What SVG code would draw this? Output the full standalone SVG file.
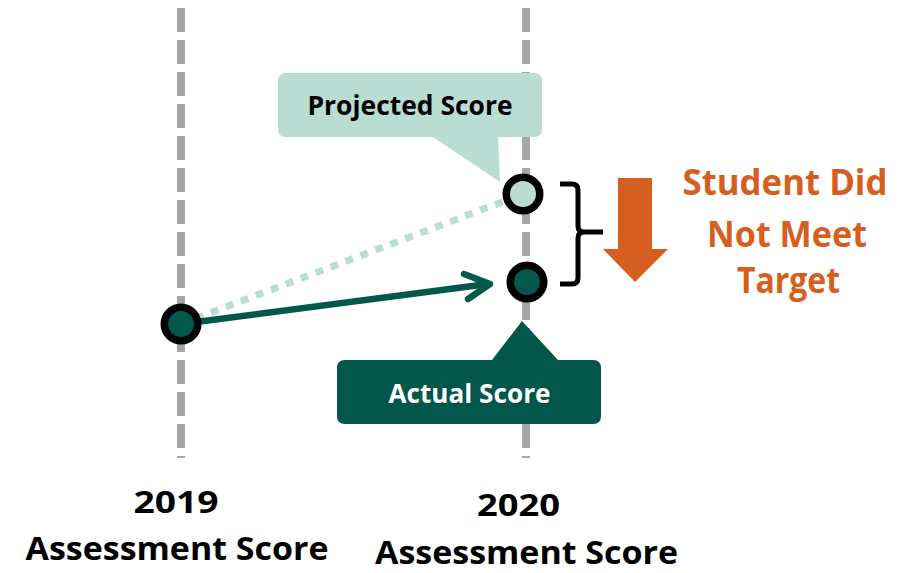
<svg xmlns="http://www.w3.org/2000/svg" width="909" height="573" viewBox="0 0 909 573">
<style>
.axis{stroke:#a6a6a6;stroke-width:8;stroke-dasharray:24 8;fill:none}
.lbl{font-family:"Open Sans","Liberation Sans",sans-serif;font-weight:bold;text-anchor:middle}
.pt{stroke:#000;stroke-width:7.5}
</style>
<rect width="909" height="573" fill="#fff"/>
<g id="axes">
<line class="axis" x1="181" y1="8" x2="181" y2="458"/>
<line class="axis" x1="526" y1="8" x2="526" y2="458"/>
</g>
<g id="connectors">
<line x1="181" y1="324" x2="523" y2="194" stroke="#b9ddd3" stroke-width="7" stroke-dasharray="8 8"/>
<line x1="181" y1="324" x2="488" y2="284" stroke="#03584a" stroke-width="6.5" stroke-linecap="round"/>
<polyline points="464,274 490,284 468,299" fill="none" stroke="#03584a" stroke-width="6.5" stroke-linecap="round" stroke-linejoin="round"/>
</g>
<g id="projected-callout">
<path d="M286,73 H534 Q542,73 542,81 V129 Q542,137 534,137 H498 L500,182 L433,137 H286 Q278,137 278,129 V81 Q278,73 286,73 Z" fill="#b9ddd3"/>
<text class="lbl" x="410" y="115" font-size="26" fill="#000" textLength="205" lengthAdjust="spacingAndGlyphs">Projected Score</text>
</g>
<g id="actual-callout">
<path d="M345,360 H492 L522,321 L558,360 H593 Q601,360 601,368 V416 Q601,424 593,424 H345 Q337,424 337,416 V368 Q337,360 345,360 Z" fill="#02574a"/>
<text class="lbl" x="469.5" y="403" font-size="27" fill="#fff" textLength="162" lengthAdjust="spacingAndGlyphs">Actual Score</text>
</g>
<g id="point-2019">
<circle class="pt" cx="181" cy="324" r="16.75" fill="#02574a"/>
</g>
<g id="point-projected">
<circle class="pt" cx="523" cy="194" r="16.75" fill="#b9ddd3"/>
</g>
<g id="point-actual">
<circle class="pt" cx="527" cy="282" r="16.75" fill="#02574a"/>
</g>
<g id="bracket">
<path d="M560,184 H572 Q578,184 578,190 V226 Q578,232 584,232 H603 M584,232 Q578,232 578,238 V278 Q578,284 572,284 H560" fill="none" stroke="#000" stroke-width="5" stroke-linejoin="round"/>
</g>
<g id="down-arrow">
<polygon points="618,178 652,178 652,249 668,249 635,282 603,249 618,249" fill="#d55e20"/>
</g>
<g id="result-label" fill="#d55e20">
<text class="lbl" x="785" y="195" font-size="36" textLength="205" lengthAdjust="spacingAndGlyphs">Student Did</text>
<text class="lbl" x="787" y="247" font-size="36" textLength="160" lengthAdjust="spacingAndGlyphs">Not Meet</text>
<text class="lbl" x="788.5" y="293" font-size="36" textLength="103" lengthAdjust="spacingAndGlyphs">Target</text>
</g>
<g id="label-2019" fill="#000">
<text class="lbl" x="176" y="513" font-size="31" textLength="85" lengthAdjust="spacingAndGlyphs">2019</text>
<text class="lbl" x="177" y="560" font-size="32" textLength="303" lengthAdjust="spacingAndGlyphs">Assessment Score</text>
</g>
<g id="label-2020" fill="#000">
<text class="lbl" x="518.5" y="516" font-size="31" textLength="83" lengthAdjust="spacingAndGlyphs">2020</text>
<text class="lbl" x="526.5" y="564" font-size="32" textLength="303" lengthAdjust="spacingAndGlyphs">Assessment Score</text>
</g>
</svg>
